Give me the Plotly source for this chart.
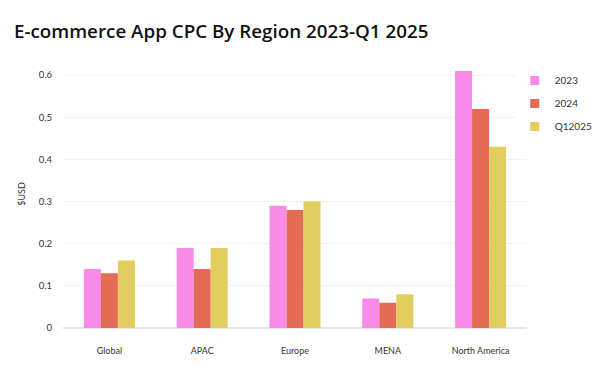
import plotly.graph_objects as go

regions = ["Global", "APAC", "Europe", "MENA", "North America"]
series_names = ["2023", "2024", "Q12025"]
v2023 = [0.14, 0.19, 0.29, 0.07, 0.61]
v2024 = [0.13, 0.14, 0.28, 0.06, 0.52]
vq12025 = [0.16, 0.19, 0.30, 0.08, 0.43]
colors = ["#f88be8", "#e46b55", "#e2cd5f"]

fig = go.Figure()
for name, vals, c in zip(series_names, [v2023, v2024, vq12025], colors):
    fig.add_trace(go.Bar(x=regions, y=vals, name=name, showlegend=False,
                         marker=dict(color=c, line=dict(width=0))))
for name, c in zip(series_names, colors):
    fig.add_trace(go.Scatter(x=[None], y=[None], mode="markers", name=name, legendgroup=name,
                             marker=dict(symbol="square", size=9, color=c)))

# the page body has an 8px margin, so the figure is 592x367 and starts at (8, 8)
fig.update_layout(
    width=592, height=367,
    barmode="group", bargap=0.45, bargroupgap=0,
    plot_bgcolor="white", paper_bgcolor="white",
    margin=dict(l=55, r=73, t=52, b=47, autoexpand=False),
    title=dict(text="E-commerce App CPC By Region 2023-Q1 2025", x=0.0101, xanchor="left",
               y=0.935, yanchor="middle",
               font=dict(family="Open Sans", size=18.8, color="#111111", weight=600)),
    font=dict(family="Lato", size=9, color="#333333"),
    legend=dict(xref="container", x=0.856, xanchor="left", y=0.978, yanchor="top",
                font=dict(size=10, color="#333"), itemwidth=30, tracegroupgap=4),
    xaxis=dict(showgrid=False, showline=False, ticks="", tickfont=dict(size=9),
               ticklabelstandoff=16),
    yaxis=dict(range=[0, 0.636], tickvals=[0, 0.1, 0.2, 0.3, 0.4, 0.5, 0.6],
               ticktext=["0", "0.1", "0.2", "0.3", "0.4", "0.5", "0.6"],
               gridcolor="#f2f2f2", zeroline=True, zerolinecolor="#e6e6e6",
               automargin=False,
               title=dict(text="$USD", font=dict(size=9), standoff=11),
               ticklabelstandoff=10, tickfont=dict(size=9.5)),
)
fig.write_html("out.html")
